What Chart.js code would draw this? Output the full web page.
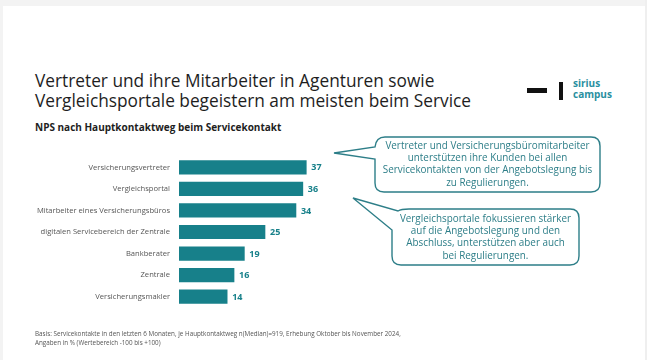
<!DOCTYPE html>
<html lang="de">
<head>
<meta charset="utf-8">
<script src="https://cdn.jsdelivr.net/npm/chart.js@4.4.1/dist/chart.umd.min.js"></script>
<style>
  html, body { margin: 0; padding: 0; background: #fff; }
  #page {
    position: relative; width: 647px; height: 360px; overflow: hidden;
    font-family: "Open Sans", sans-serif; background: #fff;
  }
  #frame-top { position: absolute; left: 0; top: 0; width: 647px; height: 6px; background: #f3f3f3; }
  #frame-left { position: absolute; left: 0; top: 0; width: 3px; height: 360px; background: #f3f3f3; }
  #frame-right { position: absolute; left: 645px; top: 0; width: 2px; height: 360px; background: #efefef; }
  .abs { position: absolute; white-space: nowrap; }
  #title { left: 35px; top: 71px; font-size: 17.3px; line-height: 20px; color: #1e1e1e; }
  #subtitle { left: 35px; top: 120px; font-size: 10px; font-weight: 700; color: #1e1e1e; }
  #logo-dash { left: 527px; top: 88px; width: 20px; height: 5px; background: #111; }
  #logo-bar { left: 559px; top: 82px; width: 4px; height: 18px; background: #111; }
  #logo-text { left: 573px; top: 78px; font-size: 10px; line-height: 10.5px; font-weight: 700; color: #2a8fa0; }
  #chart-wrap { position: absolute; left: 0; top: 143px; width: 647px; height: 178px; }
  #callouts { position: absolute; left: 0; top: 0; }
  .note { position: absolute; text-align: center; font-size: 9.9px; line-height: 12.2px; color: #2d7e88; white-space: nowrap; }
  #note1 { left: 375px; top: 139px; width: 225px; }
  #note2 { left: 392px; top: 212px; width: 187px; }
  #foot { left: 35px; top: 329px; font-size: 6.3px; line-height: 9px; color: #555; }
</style>
</head>
<body>
<div id="page">
  <div id="frame-top"></div>
  <div id="frame-left"></div>
  <div id="frame-right"></div>

  <div id="title" class="abs">Vertreter und ihre Mitarbeiter in Agenturen sowie<br>Vergleichsportale begeistern am meisten beim Service</div>
  <div id="subtitle" class="abs">NPS nach Hauptkontaktweg beim Servicekontakt</div>

  <div id="logo-dash" class="abs"></div>
  <div id="logo-bar" class="abs"></div>
  <div id="logo-text" class="abs">sirius<br>campus</div>

  <div id="chart-wrap"><canvas id="chart"></canvas></div>

  <svg id="callouts" width="647" height="360">
    <path d="M 385 137 L 591 137 Q 600 137 600 146 L 600 183 Q 600 192 591 192 L 384 192 Q 375 192 375 183 L 375 159 L 334 153 L 375 147 Q 376 137 385 137 Z"
          fill="#fff" stroke="#2d7e88" stroke-width="1.4"/>
    <path d="M 409 209 L 570 209 Q 579 209 579 218 L 579 256 Q 579 265 570 265 L 401 265 Q 392 265 392 256 L 392 230 L 353 198 L 398 211 Q 401 209 409 209 Z"
          fill="#fff" stroke="#2d7e88" stroke-width="1.4"/>
  </svg>

  <div id="note1" class="note">Vertreter und Versicherungsbüromitarbeiter<br>unterstützen ihre Kunden bei allen<br>Servicekontakten von der Angebotslegung bis<br>zu Regulierungen.</div>
  <div id="note2" class="note">Vergleichsportale fokussieren stärker<br>auf die Angebotslegung und den<br>Abschluss, unterstützen aber auch<br>bei Regulierungen.</div>

  <div id="foot" class="abs">Basis: Servicekontakte in den letzten 6 Monaten, je Hauptkontaktweg n(Median)=919, Erhebung Oktober bis November 2024,<br>Angaben in % (Wertebereich -100 bis +100)</div>
</div>

<script>
const categories = [
  "Versicherungsvertreter",
  "Vergleichsportal",
  "Mitarbeiter eines Versicherungsbüros",
  "digitalen Servicebereich der Zentrale",
  "Bankberater",
  "Zentrale",
  "Versicherungsmakler"
];
const npsValues = [37, 36, 34, 25, 19, 16, 14];

const teal = "#17808a";

// draws the bold number right of each bar
const valueLabels = {
  id: "valueLabels",
  afterDatasetsDraw(chart) {
    const ctx = chart.ctx;
    const meta = chart.getDatasetMeta(0);
    ctx.save();
    ctx.font = "700 9px 'Open Sans', sans-serif";
    ctx.fillStyle = teal;
    ctx.textBaseline = "middle";
    ctx.textAlign = "left";
    meta.data.forEach((bar, i) => {
      ctx.fillText(String(npsValues[i]), bar.x + 5, bar.y + 0.5);
    });
    ctx.restore();
  }
};

new Chart(document.getElementById("chart"), {
  type: "bar",
  data: {
    labels: categories,
    datasets: [{
      data: npsValues,
      backgroundColor: teal,
      borderWidth: 0,
      barThickness: 13.5
    }]
  },
  options: {
    indexAxis: "y",
    responsive: true,
    maintainAspectRatio: false,
    animation: false,
    layout: { padding: { left: 0, right: 296, top: 0, bottom: 0 } },
    plugins: {
      legend: { display: false },
      tooltip: { enabled: false }
    },
    scales: {
      x: {
        display: false,
        min: 0,
        max: 50
      },
      y: {
        grid: { display: false, drawTicks: false },
        border: { display: false },
        ticks: {
          padding: 9,
          color: "#555",
          font: { family: "'Open Sans', sans-serif", size: 7.6 }
        },
        afterFit(scale) { scale.width = 179; }
      }
    }
  },
  plugins: [valueLabels]
});
</script>
</body>
</html>
